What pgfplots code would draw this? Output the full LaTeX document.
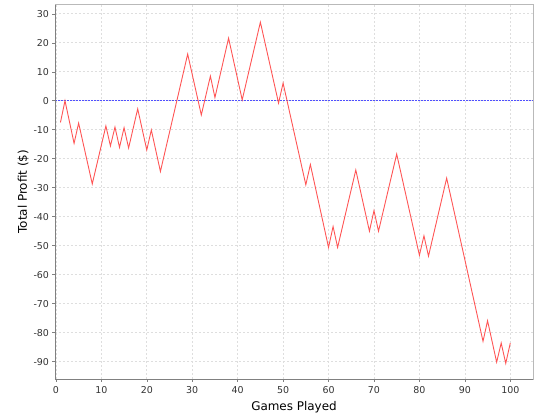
\documentclass[border=0pt]{standalone}
\usepackage{fontspec}
\setmainfont{DejaVu Sans}
\usepackage{pgfplots}
\pgfplotsset{compat=1.18}
\definecolor{serie}{RGB}{255,85,85}
\definecolor{gridc}{RGB}{222,222,222}
\definecolor{zeroc}{RGB}{80,80,255}
\begin{document}
\begin{tikzpicture}
\useasboundingbox (-55bp,-41bp) rectangle (485bp,379bp);
\begin{axis}[
  at={(0,0)}, anchor=south west,
  scale only axis, width=478bp, height=374.5bp,
  xmin=-0.2, xmax=105, ymin=-96, ymax=33.2,
  xtick={0,10,...,100}, ytick={-90,-80,...,30},
  xtick pos=bottom, ytick pos=left,
  tick align=outside, major tick length=2.5bp,
  tick style={gray, line width=0.5bp},
  grid=major,
  major grid style={gridc, dash pattern=on 2bp off 2bp, line width=0.6bp},
  axis line style={draw=gray!55, line width=0.6bp},
  /pgf/number format/assume math mode=true,
  tick label style={font=\fontsize{9.5}{12}\selectfont, text=black!80},
  xticklabel style={yshift=-1bp},
  label style={font=\fontsize{12}{14}\selectfont},
  xlabel={Games Played}, ylabel={Total Profit (\$)},
  xlabel style={yshift=-1bp},
  ylabel style={yshift=-2bp},
  after end axis/.code={
    \draw[gray, line width=0.8bp] (rel axis cs:0,1) -- (rel axis cs:0,0) -- (rel axis cs:1,0);
  },
]
\addplot[zeroc, line width=0.6bp, dash pattern=on 2bp off 1bp, forget plot] coordinates {(-0.2,0) (105,0)};
\addplot[serie, line width=0.9bp, mark=none] coordinates {
(1,-7.5) (2,0) (4,-14.7) (5,-7.7) (8,-28.7) (11,-8.7) (12,-15.6) (13,-9.1)
(14,-16.1) (15,-9.3) (16,-16.3) (18,-2.8) (20,-17) (21,-10.1) (23,-24.4)
(29,16.1) (32,-4.9) (34,8.5) (35,1.1) (38,21.6) (41,0.3) (45,27.1) (49,-0.8)
(50,6.1) (55,-29) (56,-22) (60,-50.6) (61,-43.4) (62,-50.6) (66,-23.9)
(69,-45) (70,-37.9) (71,-45) (75,-18.4) (80,-53.3) (81,-46.6) (82,-53.6)
(86,-26.7) (94,-83) (95,-75.9) (97,-90.2) (98,-83.6) (99,-90.6) (100,-83.6)
};
\end{axis}
\end{tikzpicture}
\end{document}
